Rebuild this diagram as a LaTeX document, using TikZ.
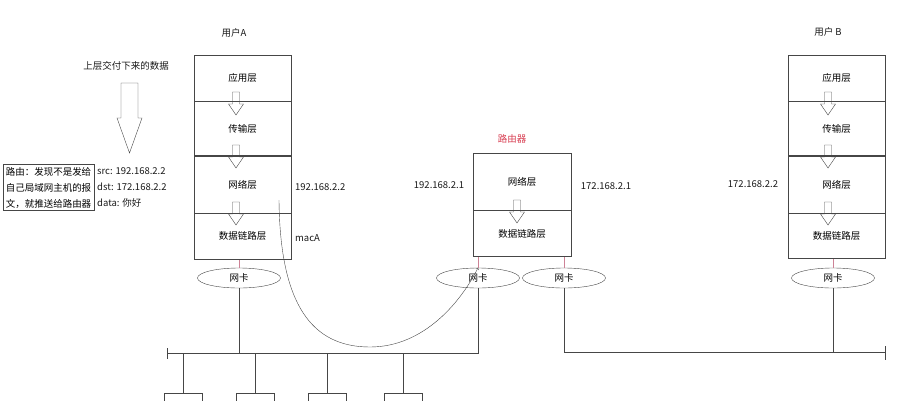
\documentclass[tikz,border=0pt]{standalone}
\usepackage{fontspec}
\setmainfont{Noto Sans CJK SC}
\usepackage{tikz}
\usetikzlibrary{positioning,calc,shapes}
\definecolor{mygray}{RGB}{70,70,70}
\definecolor{myred}{RGB}{215,60,80}
\definecolor{mypink}{RGB}{205,130,150}
\tikzstyle{layer}=[draw=mygray,minimum width=97pt,inner sep=0pt,thin]
\tikzstyle{nic}=[draw=mygray,ellipse,minimum width=83pt,minimum height=20pt,inner sep=0pt]
\tikzstyle{host}=[draw=mygray,minimum width=38pt,minimum height=24pt,anchor=north]
\tikzstyle{label}=[inner sep=1pt,text=black!90]
\tikzset{
  downarr/.pic={\draw[mygray] (-3.5,0) -- (3.5,0) -- (3.5,12) -- (7.5,12) -- (0,23) -- (-7.5,12) -- (-3.5,12) -- cycle;},
  bigarr/.pic={\draw[mygray,fill=white] (-8.5,0) -- (8.5,0) -- (8.5,35) -- (12.5,35) -- (0,70) -- (-12.5,35) -- (-8.5,35) -- cycle;}
}

\begin{document}
\begin{tikzpicture}[x=1pt,y=-1pt,font=\fontsize{9.5}{11}\selectfont,node distance=0pt]
\clip (0,0) rectangle (898,400);
\tikzstyle{every path}=[thin,draw=mygray]

% user A
\node (A1) [layer,minimum height=46pt,anchor=north] at (242.5,55) {应用层};
\node (A2) [layer,minimum height=54pt,below=of A1] {传输层};
\node (A3) [layer,minimum height=57pt,below=of A2] {网络层};
\node (A4) [layer,minimum height=46pt,below=of A3] {数据链路层};
\node (userA) [label] at (234,33) {用户A};
\pic at (236,92) {downarr};
\pic at (236,145) {downarr};
\pic at (236,202) {downarr};

% router
\node (R1) [layer,minimum height=57pt,minimum width=98pt,anchor=north] at (522,153) {网络层};
\node (R2) [layer,minimum height=46pt,minimum width=98pt,below=of R1] {数据链路层};
\node (router) [label,text=myred] at (512,139) {路由器};
\pic at (517,200) {downarr};

% user B
\node (B1) [layer,minimum height=46pt,anchor=north] at (836.5,55) {应用层};
\node (B2) [layer,minimum height=54pt,below=of B1] {传输层};
\node (B3) [layer,minimum height=57pt,below=of B2] {网络层};
\node (B4) [layer,minimum height=45pt,below=of B3] {数据链路层};
\node (userB) [label] at (828,32) {用户 B};
\pic at (828,92) {downarr};
\pic at (828,145) {downarr};
\pic at (828,202) {downarr};

% addresses
\node (ipA) [label,anchor=west] at (294,187) {192.168.2.2};
\node (macA) [label,anchor=west] at (294,238) {macA};
\node (ipR1) [label] at (439,185) {192.168.2.1};
\node (ipR2) [label] at (606,186) {172.168.2.1};
\node (ipB) [label] at (753,184) {172.168.2.2};

% data from upper layer
\node (upper) [label] at (126,66) {上层交付下来的数据};
\pic at (129.5,83) {bigarr};
\node (route) [draw=mygray,align=left,inner sep=2.5pt,font=\fontsize{9.5}{16}\selectfont] at (48.5,187.5) {路由：发现不是发给\\自己局域网主机的报\\文，就推送给路由器};
\node (pkt) [label,anchor=west,align=left,font=\fontsize{9.5}{16}\selectfont] at (96,187.5) {src: 192.168.2.2\\dst: 172.168.2.2\\data: 你好};

% network cards
\node (nicA) [nic] at (239,278) {网卡};
\node (nicR1) [nic] at (478,278) {网卡};
\node (nicR2) [nic] at (564,278) {网卡};
\node (nicB) [nic] at (833,278) {网卡};
\draw[mypink] (nicA.north) -- (nicA.north |- A4.south);
\draw[mypink] (nicR1.north) -- (nicR1.north |- R2.south);
\draw[mypink] (nicR2.north) -- (nicR2.north |- R2.south);
\draw[mypink] (nicB.north) -- (nicB.north |- B4.south);

% buses
\coordinate (busL) at (167,353);
\coordinate (busR) at (885,352);
\draw (busL) -- (nicR1.south |- busL) -- (nicR1.south);
\draw (167,348) -- (167,359);
\draw (nicR2.south) -- (nicR2.south |- busR) -- (busR);
\draw (885,346) -- (885,360);
\draw (nicA.south) -- (nicA.south |- busL);
\draw (nicB.south) -- (nicB.south |- busR);

% hosts
\node (h1) [host] at (183,393) {};
\node (h2) [host] at (255.5,393) {};
\node (h3) [host] at (327,393) {};
\node (h4) [host] at (403.5,393) {};
\foreach \h in {h1,h2,h3,h4}
  \draw (\h.north) -- (\h.north |- busL);

% packet path
\coordinate (pktstart) at (279,200);
\draw[->] (pktstart) .. controls (280,305) and (312,347) .. (370,347) .. controls (425,347) and (462,300) .. (nicR1.north);
\end{tikzpicture}
\end{document}
